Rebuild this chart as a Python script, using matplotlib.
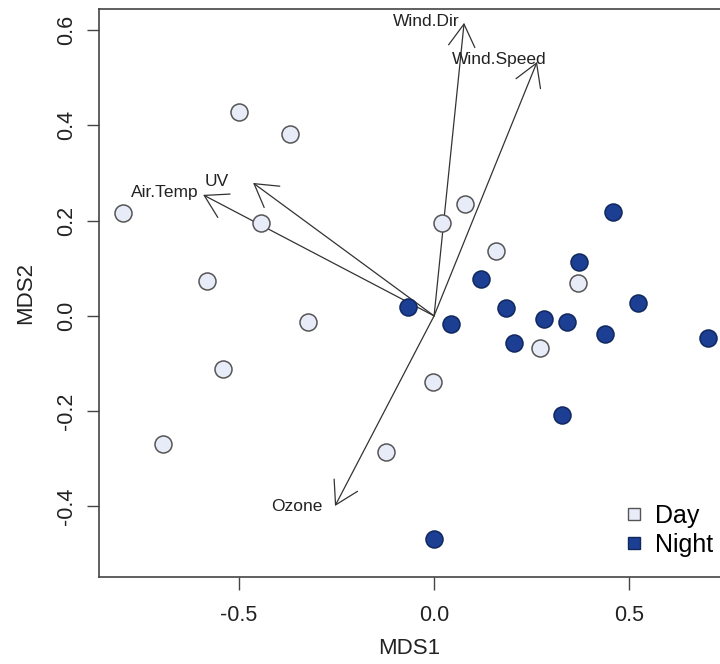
import matplotlib
matplotlib.use('Agg')
import matplotlib.pyplot as plt
from matplotlib.patches import FancyArrowPatch
from matplotlib.lines import Line2D

plt.rcParams['font.family'] = ['Liberation Sans', 'DejaVu Sans']

# site scores (MDS1, MDS2)
day_x = [-0.797, -0.500, -0.369, -0.444, -0.582, -0.323, -0.541, -0.695,
         -0.123, -0.003, 0.272, 0.020, 0.080, 0.159, 0.369]
day_y = [0.216, 0.428, 0.382, 0.195, 0.073, -0.013, -0.111, -0.269,
         -0.285, -0.138, -0.067, 0.196, 0.235, 0.137, 0.069]
night_x = [0.459, 0.372, 0.121, -0.067, 0.185, 0.282, 0.341, 0.044,
           0.523, 0.438, 0.703, 0.205, 0.328, 0.000]
night_y = [0.217, 0.113, 0.077, 0.019, 0.017, -0.006, -0.013, -0.017,
           0.027, -0.038, -0.046, -0.057, -0.208, -0.468]

# environmental vectors
env_names = ['Air.Temp', 'UV', 'Wind.Dir', 'Wind.Speed', 'Ozone']
env_x = [-0.592, -0.464, 0.077, 0.264, -0.254]
env_y = [0.254, 0.279, 0.615, 0.533, -0.399]
# label positions
lab_x = [-0.690, -0.558, -0.020, 0.166, -0.352]
lab_y = [0.260, 0.283, 0.617, 0.539, -0.401]

day_col = '#e8ecf8'
night_col = '#1c3f94'

fig = plt.figure(figsize=(7.2, 6.64), dpi=100)
ax = fig.add_axes([0.1375, 0.131, 0.8625, 0.8554])

for x, y in zip(env_x, env_y):
    ax.add_patch(FancyArrowPatch((0, 0), (x, y), arrowstyle='->,head_length=16,head_width=9.5',
                                 mutation_scale=1, shrinkA=0, shrinkB=0,
                                 color='#333333', lw=0.9, zorder=1))
for name, x, y in zip(env_names, lab_x, lab_y):
    ax.text(x, y, name, ha='center', va='center', fontsize=12.5, color='#222222', zorder=2)

ax.scatter(day_x, day_y, s=150, c=day_col, edgecolors='#555555', linewidths=1.1, zorder=3)
ax.scatter(night_x, night_y, s=150, c=night_col, edgecolors='#10285e', linewidths=1.1, zorder=3)

ax.set_xlim(-0.859, 0.733)
ax.set_ylim(-0.548, 0.644)
ax.set_xticks([-0.5, 0.0, 0.5])
ax.set_xticklabels(['-0.5', '0.0', '0.5'])
ax.set_yticks([-0.4, -0.2, 0.0, 0.2, 0.4, 0.6])
ax.set_yticklabels(['-0.4', '-0.2', '0.0', '0.2', '0.4', '0.6'], rotation=90, va='center')
ax.tick_params(labelsize=15.5, length=9, width=1, color='#444444', labelcolor='#222222')
ax.tick_params(axis='x', pad=11)
ax.tick_params(axis='y', pad=7)
for side in ['left', 'bottom', 'top']:
    ax.spines[side].set_color('#444444')
    ax.spines[side].set_linewidth(1.2)
ax.spines['right'].set_visible(False)

ax.set_xlabel('MDS1', fontsize=16, color='#222222', labelpad=9)
ax.set_ylabel('MDS2', fontsize=16, color='#222222', labelpad=14)

handles = [Line2D([], [], marker='s', ls='', ms=8, mfc=day_col, mec='#555555', label='Day'),
           Line2D([], [], marker='s', ls='', ms=8, mfc=night_col, mec='#10285e', label='Night')]
ax.legend(handles=handles, loc='lower right', bbox_to_anchor=(1.005, 0.018), frameon=False,
          fontsize=18, handletextpad=0.35, labelspacing=0.2, borderaxespad=0.0, handlelength=1.0)

fig.savefig('out.png', dpi=100)
